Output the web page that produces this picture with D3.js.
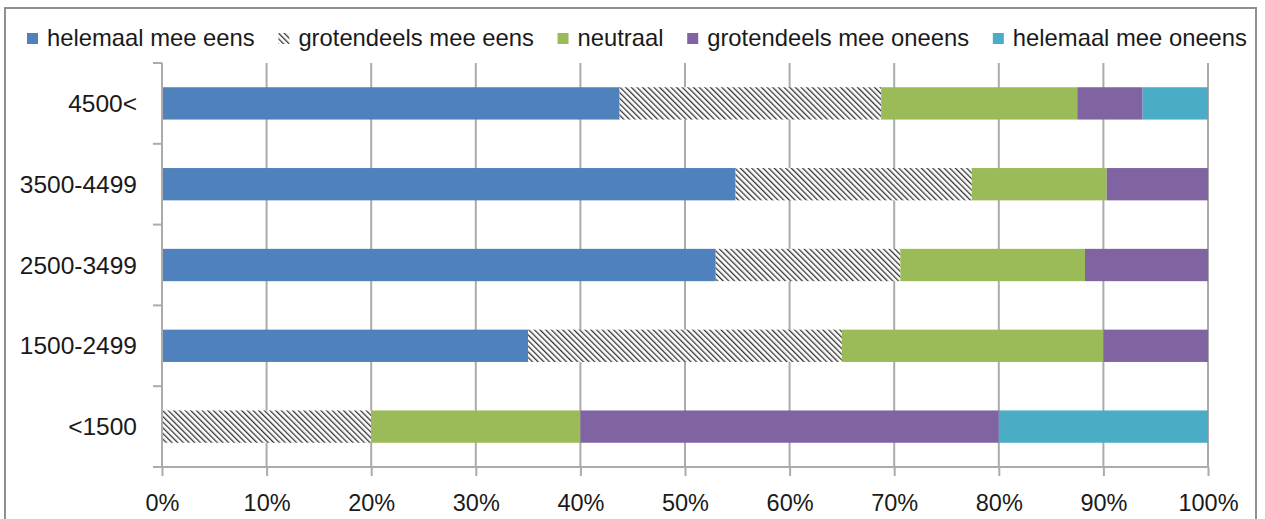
<!DOCTYPE html>
<html>
<head>
<meta charset="utf-8">
<script src="https://cdn.jsdelivr.net/npm/d3@7"></script>
<style>
  html, body { margin: 0; padding: 0; background: #fff; }
  svg { display: block; }
  text { font-family: "Liberation Sans", Arial, sans-serif; fill: #1a1a1a; }
</style>
</head>
<body>
<svg id="chart" width="1265" height="519"></svg>
<script>
// Income groups, top to bottom
const categories = ["4500<", "3500-4499", "2500-3499", "1500-2499", "<1500"];

// Share of answers per group (%)
const helemaalEens    = [43.75, 54.84, 52.94, 35, 0];
const grotendeelsEens = [25, 22.58, 17.65, 30, 20];
const neutraal        = [18.75, 12.90, 17.65, 25, 20];
const grotendeelsOneens = [6.25, 9.68, 11.76, 10, 40];
const helemaalOneens  = [6.25, 0, 0, 0, 20];

const seriesNames = ["helemaal mee eens", "grotendeels mee eens", "neutraal",
                     "grotendeels mee oneens", "helemaal mee oneens"];
const seriesValues = [helemaalEens, grotendeelsEens, neutraal, grotendeelsOneens, helemaalOneens];
const tickValues = [0, 0.1, 0.2, 0.3, 0.4, 0.5, 0.6, 0.7, 0.8, 0.9, 1];

const fills = ["#4F81BD", "url(#hatch)", "#9BBB59", "#8064A2", "#4BACC6"];

const svg = d3.select("#chart");

// diagonal hatch for the second series
const defs = svg.append("defs");
const pat = defs.append("pattern")
  .attr("id", "hatch")
  .attr("patternUnits", "userSpaceOnUse")
  .attr("width", 4).attr("height", 4)
  .attr("patternTransform", "rotate(-45)");
pat.append("rect").attr("width", 4).attr("height", 4).attr("fill", "#fff");
pat.append("line").attr("x1", 0).attr("y1", 0).attr("x2", 0).attr("y2", 4)
  .attr("stroke", "#353535").attr("stroke-width", 2.6);

// outer frame
svg.append("rect")
  .attr("x", 5).attr("y", 8).attr("width", 1251).attr("height", 530)
  .attr("fill", "#fff").attr("stroke", "#8f8f8f").attr("stroke-width", 2);

const plotLeft = 162, plotRight = 1208, plotTop = 63, plotBottom = 467;

const x = d3.scaleLinear().domain([0, 1]).range([plotLeft, plotRight]);
const y = d3.scaleBand().domain(categories).range([plotTop, plotBottom]).paddingInner(0.6).paddingOuter(0.3);

// table for stacking
const rows = categories.map((c, i) => {
  const r = { cat: c };
  seriesNames.forEach((s, j) => r[s] = seriesValues[j][i] / 100);
  return r;
});
const stacked = d3.stack().keys(seriesNames)(rows);

const gridColor = "#ababab";

// vertical gridlines
svg.append("g")
  .selectAll("line")
  .data(tickValues.slice(1))
  .join("line")
  .attr("x1", d => x(d)).attr("x2", d => x(d))
  .attr("y1", plotTop).attr("y2", plotBottom)
  .attr("stroke", gridColor).attr("stroke-width", 2);

// bars
svg.append("g")
  .selectAll("g")
  .data(stacked)
  .join("g")
  .attr("fill", (d, i) => fills[i])
  .selectAll("rect")
  .data(d => d)
  .join("rect")
  .attr("x", d => x(d[0]))
  .attr("width", d => Math.max(0, x(d[1]) - x(d[0])))
  .attr("y", d => y(d.data.cat))
  .attr("height", y.bandwidth());

// x axis
const xAxis = svg.append("g")
  .attr("transform", `translate(0,${plotBottom})`)
  .call(d3.axisBottom(x).tickValues(tickValues).tickFormat(d3.format(".0%")).tickSize(9).tickSizeOuter(0).tickPadding(18));
xAxis.select(".domain").remove();
xAxis.selectAll(".tick line").attr("stroke", gridColor).attr("stroke-width", 2);
xAxis.selectAll("text").attr("font-size", 23.5).attr("fill", "#1a1a1a")
  .style("font-family", '"Liberation Sans", Arial, sans-serif');
svg.append("line")
  .attr("x1", plotLeft - 9).attr("x2", plotRight).attr("y1", plotBottom).attr("y2", plotBottom)
  .attr("stroke", gridColor).attr("stroke-width", 2);

// y axis
svg.append("line")
  .attr("x1", plotLeft).attr("x2", plotLeft).attr("y1", plotTop).attr("y2", plotBottom)
  .attr("stroke", gridColor).attr("stroke-width", 2);
const yTicks = d3.range(categories.length + 1).map(i => plotTop + i * (plotBottom - plotTop) / categories.length);
svg.append("g").selectAll("line").data(yTicks).join("line")
  .attr("x1", plotLeft - 9).attr("x2", plotLeft).attr("y1", d => d).attr("y2", d => d)
  .attr("stroke", gridColor).attr("stroke-width", 2);
svg.append("g").selectAll("text").data(categories).join("text")
  .attr("x", 137)
  .attr("y", d => y(d) + y.bandwidth() / 2 + 8.5)
  .attr("text-anchor", "end")
  .attr("font-size", 24.5)
  .text(d => d);

// legend
const legend = svg.append("g");
const items = legend.selectAll("g").data(seriesNames).join("g");
items.append("rect")
  .attr("width", 11).attr("height", 11)
  .attr("y", 33)
  .attr("fill", (d, i) => fills[i]);
items.append("text")
  .attr("x", 20).attr("y", 46)
  .attr("font-size", 23.8)
  .text(d => d);
const widths = [];
items.each(function () { widths.push(20 + this.querySelector("text").getComputedTextLength()); });
const legStart = 27, legEnd = 1247;
const gap = (legEnd - legStart - d3.sum(widths)) / (widths.length - 1);
let cx = legStart;
items.attr("transform", (d, i) => { const t = `translate(${cx},0)`; cx += widths[i] + gap; return t; });
</script>
</body>
</html>
